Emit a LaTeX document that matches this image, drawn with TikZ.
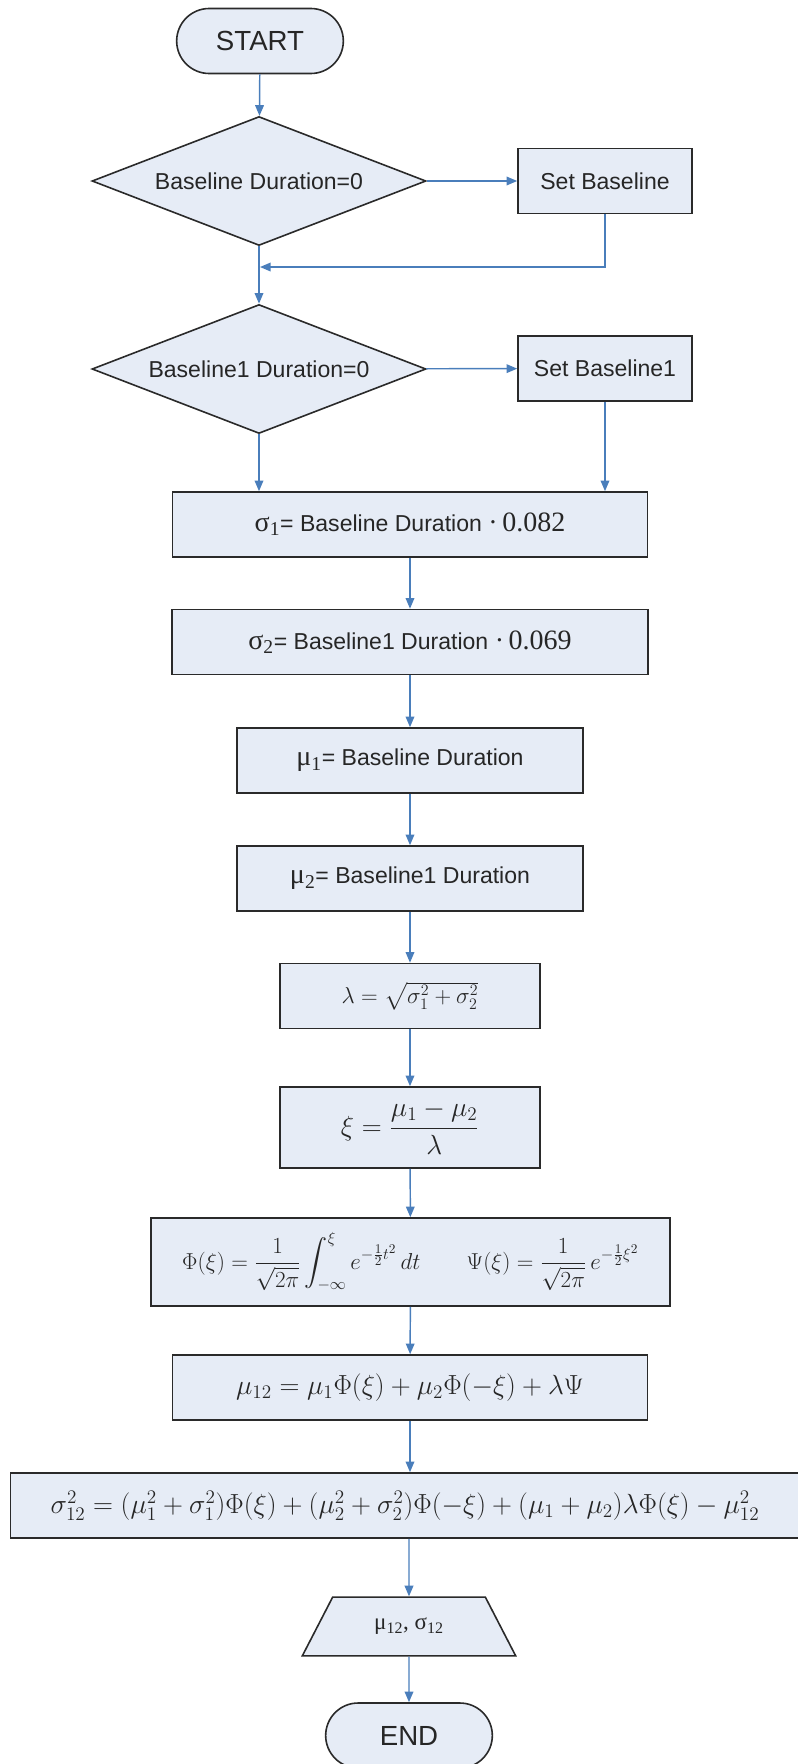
\documentclass[tikz,border=0pt]{standalone}
\usepackage{amsmath}
\usepackage{fontspec}
\setmainfont{Liberation Sans}
\newfontfamily\tnr{Liberation Serif}
\usetikzlibrary{arrows.meta,shapes.geometric,shapes.misc}
\definecolor{boxfill}{HTML}{E6ECF6}
\definecolor{flowblue}{HTML}{4A7EBB}
\definecolor{edgegray}{HTML}{2A2A2A}
\newcommand{\tnrbig}[1]{{\fontsize{21}{24}\selectfont\tnr #1}}

\begin{document}
\begin{tikzpicture}[x=0.75pt, y=-0.75pt,
  base/.style={draw=edgegray, fill=boxfill, line width=1.2pt, text=black!85,
               inner sep=2pt, font=\LARGE},
  term/.style={base, rounded rectangle, minimum width=129pt,
               minimum height=48.75pt, font=\huge},
  decision/.style={base, diamond, aspect=2.6, minimum width=250.5pt,
                   minimum height=96.75pt, inner sep=0pt},
  proc/.style={base, rectangle, minimum height=48.75pt},
  io/.style={base, trapezium, trapezium left angle=56,
             trapezium right angle=56, trapezium stretches=true,
             minimum width=160.5pt, minimum height=44pt, font=\LARGE\tnr},
  conn/.style={->, draw=flowblue, line width=1.1pt},
  >={Triangle[length=8pt,width=6.5pt]}]
\useasboundingbox (0,0) rectangle (798,1764);
% start and the two baseline checks
\node[term] (start) at (260,41) {START};
\node[decision] (dec1) at (259,181) {Baseline Duration=0};
\node[proc, minimum width=130.5pt] (setb) at (605,181) {Set Baseline};
\node[decision] (dec2) at (259,369) {Baseline1 Duration=0};
\node[proc, minimum width=130.5pt] (setb1) at (605,368.5) {Set Baseline1};
\coordinate (join) at (260,267);
% computation chain
\node[proc, minimum width=356pt] (sig1) at (410,524.5)
  {\tnrbig{σ\textsubscript{1}}= Baseline Duration \tnrbig{·\,0.082}};
\node[proc, minimum width=357pt] (sig2) at (410,642)
  {\tnrbig{σ\textsubscript{2}}= Baseline1 Duration \tnrbig{·\,0.069}};
\node[proc, minimum width=259.5pt] (mu1) at (410,760.5)
  {\tnrbig{μ\textsubscript{1}}= Baseline Duration};
\node[proc, minimum width=259.5pt] (mu2) at (410,878.5)
  {\tnrbig{μ\textsubscript{2}}= Baseline1 Duration};
\node[proc, minimum width=195pt] (lam) at (410,996)
  {$\lambda = \sqrt{\sigma_1^2 + \sigma_2^2}$};
\node[proc, minimum width=195pt, minimum height=60.75pt, font=\huge]
  (xi) at (410,1127.5) {$\xi = \dfrac{\mu_1 - \mu_2}{\lambda}$};
\node[proc, minimum width=389pt, minimum height=66pt] (phi) at (410.5,1262)
  {$\Phi(\xi) = \dfrac{1}{\sqrt{2\pi}}\displaystyle\int_{-\infty}^{\xi}
    e^{-\frac{1}{2}t^2}\,dt \qquad
    \Psi(\xi) = \dfrac{1}{\sqrt{2\pi}}\,e^{-\frac{1}{2}\xi^2}$};
\node[proc, minimum width=356pt, font=\huge] (mu12) at (410,1387.5)
  {$\mu_{12} = \mu_1\Phi(\xi) + \mu_2\Phi(-\xi) + \lambda\Psi$};
\node[proc, minimum width=592pt, font=\huge] (sig12) at (405,1505.5)
  {$\sigma_{12}^2 = (\mu_1^2 + \sigma_1^2)\Phi(\xi)
    + (\mu_2^2 + \sigma_2^2)\Phi(-\xi) + (\mu_1 + \mu_2)\lambda\Phi(\xi)
    - \mu_{12}^2$};
\node[io] (out) at (409,1626.5) {μ\textsubscript{12}, σ\textsubscript{12}};
\node[term] (end) at (409,1735.5) {END};
% connectors
\draw[conn] (start) -- (dec1);
\draw[conn] (dec1) -- (setb);
\draw[conn] (setb.south) |- (join);
\draw[conn] (dec1.south) -- (dec2.north);
\draw[conn] (dec2) -- (setb1);
\draw[conn] (dec2.south) -- (dec2.south |- sig1.north);
\draw[conn] (setb1.south) -- (setb1.south |- sig1.north);
\foreach \a/\b in {sig1/sig2, sig2/mu1, mu1/mu2, mu2/lam, lam/xi, xi/phi,
                   phi/mu12}
  \draw[conn] (\a) -- (\b);
\draw[conn] (mu12.south) -- (mu12.south |- sig12.north);
\draw[conn] (out.north |- sig12.south) -- (out);
\draw[conn] (out) -- (end);
\end{tikzpicture}
\end{document}
